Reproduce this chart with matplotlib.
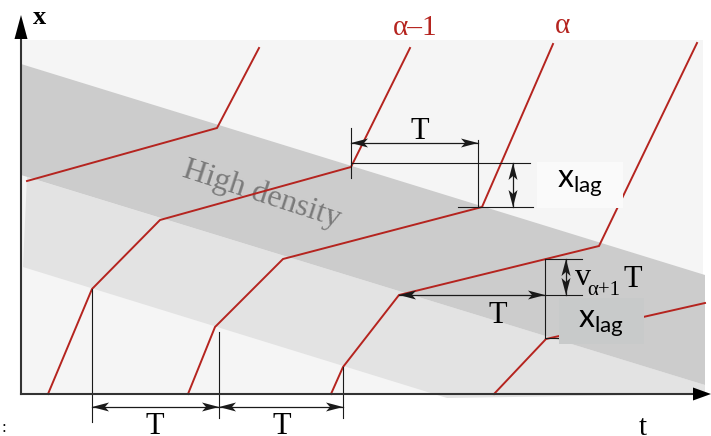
import numpy as np
import matplotlib.pyplot as plt

# diagram units: 1 unit = 1 px, origin where the t and x axes meet
traj_t = [
    [6, 196, 238],
    [27, 71, 139, 330, 389],
    [167, 194, 262, 461, 532],
    [310, 322, 378, 578, 676],
    [473, 525, 684],
]
traj_x = [
    [213, 266, 346],
    [0, 105, 174, 227, 346],
    [0, 67, 135, 187, 350],
    [0, 27, 99, 148, 351],
    [0, 55, 91],
]

# shaded bands
dense_t = [0, 684, 684, 0]
dense_x = [330, 119, 9, 219]
mid_t = [6, 684, 684, 426, 2]
mid_x = [217, 9, 0, -4, 127]

red = '#b5241f'
ink = '#1a1a1a'
serif = 'Liberation Serif'

fig = plt.figure(figsize=(7.11, 4.36), dpi=100, facecolor='white')
ax = fig.add_axes([0, 0, 1, 1])
ax.set_xlim(-21, 690)
ax.set_ylim(-42, 394)
ax.axis('off')


def head(tip, d, L=17, w=4.5, n=4, color=ink, z=6):
    d = np.asarray(d, float)
    d = d / np.hypot(*d)
    p = np.array([-d[1], d[0]])
    tip = np.asarray(tip, float)
    pts = [tip, tip - L*d + w*p, tip - (L - n)*d, tip - L*d - w*p]
    ax.fill(*zip(*pts), color=color, lw=0, zorder=z)


def dim(a, b):
    a, b = np.asarray(a, float), np.asarray(b, float)
    ax.plot([a[0], b[0]], [a[1], b[1]], color=ink, lw=0.9, zorder=6)
    head(a, a - b)
    head(b, b - a)


def seg(t, x):
    ax.plot(t, x, color=ink, lw=0.8, zorder=6)


# background and bands
ax.fill([0, 682, 682, 0], [0, 0, 354, 354], color='#f5f5f5', lw=0, zorder=1)
ax.fill(mid_t, mid_x, color='#e3e3e3', lw=0, zorder=2)
ax.fill(dense_t, dense_x, color='#cccccc', lw=0, zorder=3)
ax.text(241, 200, 'High density', rotation=-18, rotation_mode='anchor',
        ha='center', va='center', fontsize=23, family=serif,
        color='#7a7a7a', zorder=4)

# vehicle trajectories
for t, x in zip(traj_t, traj_x):
    ax.plot(t, x, color=red, lw=1.4, solid_joinstyle='miter', zorder=5)

# axes
ax.plot([0, 0], [0, 356], color='#333333', lw=1.5, zorder=9)
ax.plot([0, 674], [0, 0], color='#333333', lw=1.5, zorder=9)
ax.fill([-6.5, 6.5, 0], [355, 355, 379], color='black', lw=0, zorder=9)
ax.fill([672, 672, 690], [6.5, -6.5, 0], color='black', lw=0, zorder=9)
ax.text(19, 370, 'x', fontsize=19, family=serif, weight='bold',
        ha='center', va='baseline')
ax.text(622, -41, 't', fontsize=21, family=serif, ha='center', va='baseline')

# vehicle labels
ax.text(394, 359, 'α–1', fontsize=21, family=serif, color=red,
        ha='center', va='baseline')
ax.text(542, 361, 'α', fontsize=21, family=serif, color=red,
        ha='center', va='baseline')

# period T between alpha-1 and alpha (top)
seg([330, 330], [216, 266])
seg([457, 457], [187, 254])
dim((330, 251), (457, 251))
ax.text(399, 255, 'T', fontsize=22, family=serif, ha='center', va='baseline')

# x_lag (top)
seg([330, 509], [231, 231])
seg([437, 512], [187, 187])
dim((492, 231), (492, 187))
ax.fill([516, 602, 602, 516], [186, 186, 232, 232], color='#fafafa', lw=0,
        zorder=7)
ax.text(559, 207, r'$\mathregular{x_{lag}}$', fontsize=23, family='Lato',
        ha='center', va='baseline', zorder=8)

# periods T (bottom)
seg([71, 71], [-28, 105])
seg([198, 198], [-24, 62])
seg([322, 322], [-24, 27])
dim((71, -13), (198, -13))
dim((198, -13), (322, -13))
ax.text(134, -40, 'T', fontsize=22, family=serif, ha='center', va='baseline')
ax.text(261, -40, 'T', fontsize=22, family=serif, ha='center', va='baseline')

# v_{alpha+1} T and x_lag (right)
dim((378, 99), (524, 99))
seg([524, 524], [56, 135])
seg([524, 561], [135, 135])
seg([524, 561], [99, 99])
seg([524, 539], [56, 56])
dim((545, 135), (545, 99))
ax.text(477, 71, 'T', fontsize=22, family=serif, ha='center', va='baseline')
ax.text(554, 109, 'v', fontsize=23, family=serif, va='baseline')
ax.text(566, 99, 'α+1', fontsize=15, family=serif, va='baseline')
ax.text(603, 107, 'T', fontsize=22, family=serif, va='baseline')
ax.fill([538, 623, 623, 538], [50, 50, 96, 96], color='#c8caca', lw=0,
        zorder=7)
ax.text(580, 67, r'$\mathregular{x_{lag}}$', fontsize=23, family='Lato',
        ha='center', va='baseline', zorder=8)

# cut-off caption mark at the lower left
ax.text(-19, -38, ':', fontsize=12, family=serif, ha='left', va='baseline')

fig.savefig('out.png', dpi=100, facecolor='white')
